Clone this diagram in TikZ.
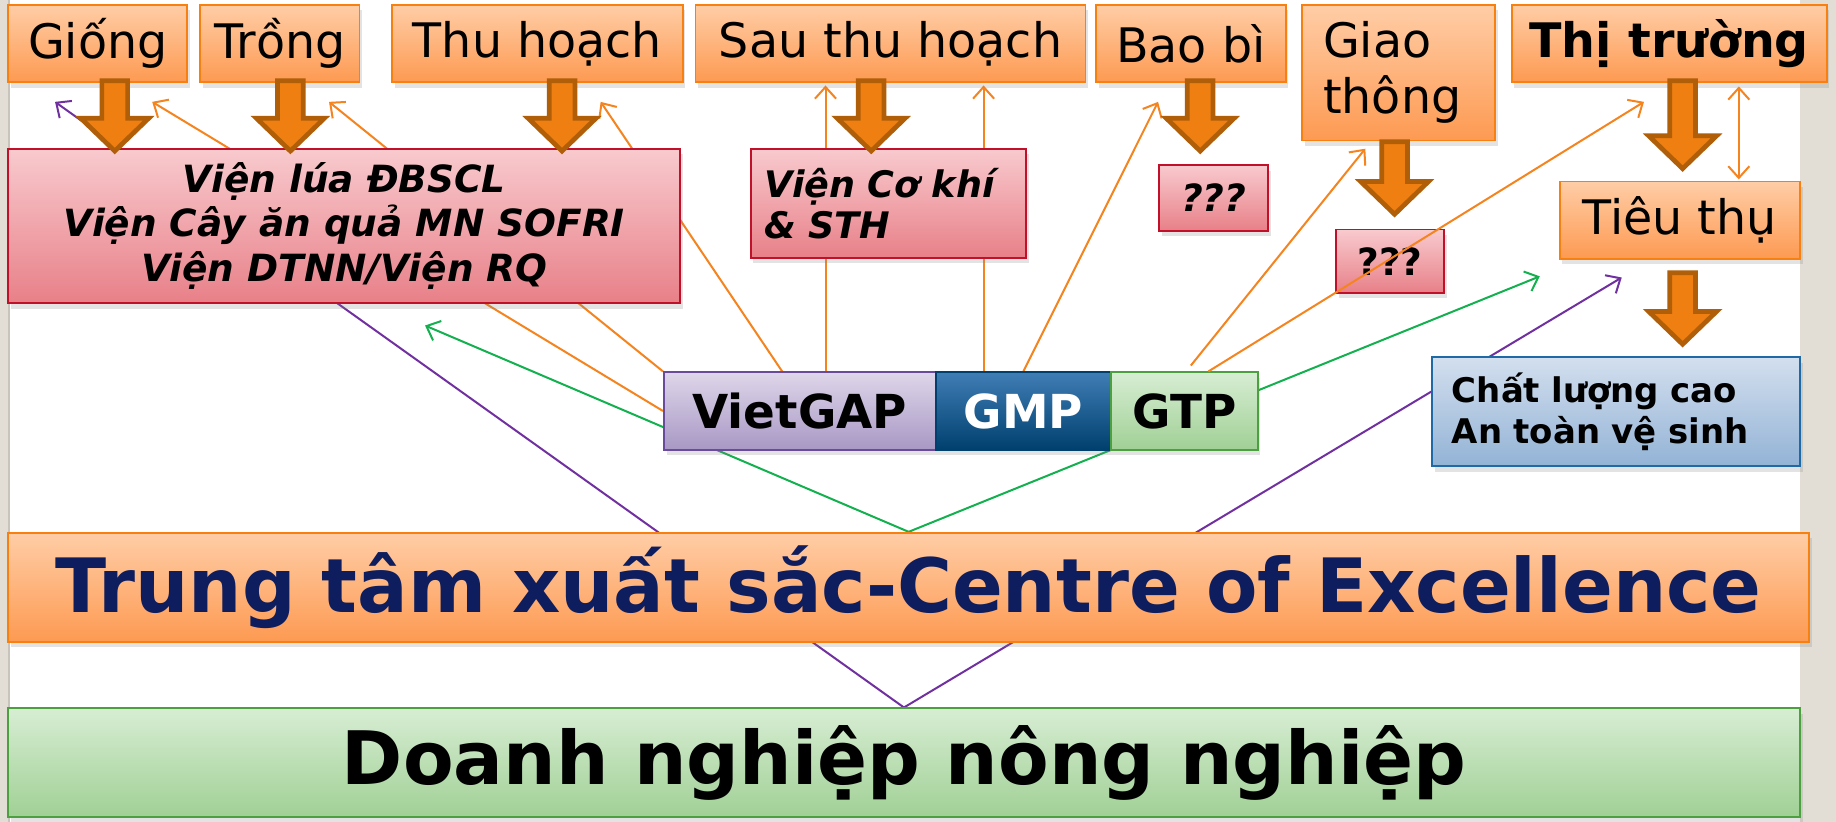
\documentclass[tikz,border=0pt]{standalone}
\usepackage{fontspec}
\setmainfont{DejaVu Sans}
\usetikzlibrary{arrows.meta,shadows}
\pgfdeclarelayer{bg}
\pgfdeclarelayer{lines}
\pgfsetlayers{bg,lines,main}
\definecolor{otop}{RGB}{255,205,166}
\definecolor{obot}{RGB}{253,154,82}
\definecolor{oborder}{RGB}{248,128,16}
\definecolor{rtop}{RGB}{248,202,206}
\definecolor{rbot}{RGB}{232,128,136}
\definecolor{rborder}{RGB}{192,16,42}
\definecolor{btop}{RGB}{211,223,238}
\definecolor{bbot}{RGB}{147,179,214}
\definecolor{bborder}{RGB}{31,106,165}
\definecolor{grtop}{RGB}{215,237,211}
\definecolor{grbot}{RGB}{160,208,149}
\definecolor{grborder}{RGB}{77,160,64}
\definecolor{vtop}{RGB}{222,214,234}
\definecolor{vbot}{RGB}{168,152,196}
\definecolor{vborder}{RGB}{106,74,154}
\definecolor{mtop}{RGB}{63,125,181}
\definecolor{mbot}{RGB}{0,64,110}
\definecolor{navy}{RGB}{14,29,94}
\definecolor{lineor}{RGB}{245,132,31}
\definecolor{linegr}{RGB}{18,176,78}
\definecolor{linepu}{RGB}{112,48,160}
\definecolor{fatfill}{RGB}{238,127,16}
\definecolor{fatborder}{RGB}{176,94,8}
\definecolor{sidebg}{RGB}{226,222,214}
\definecolor{sideedge}{RGB}{200,196,188}
\tikzset{
  box/.style={draw, line width=0.8pt, inner sep=0pt,
    drop shadow={shadow xshift=1.2pt, shadow yshift=-2.4pt, opacity=0.22}},
  obox/.style={box, draw=oborder, top color=otop, bottom color=obot,
    font=\fontsize{20.3pt}{24pt}\selectfont},
  rbox/.style={box, draw=rborder, top color=rtop, bottom color=rbot,
    font=\fontsize{16pt}{18.8pt}\selectfont\bfseries\itshape},
  bbox/.style={box, draw=bborder, top color=btop, bottom color=bbot,
    font=\fontsize{14.5pt}{17.5pt}\selectfont\bfseries},
  gbox/.style={box, draw=grborder, top color=grtop, bottom color=grbot},
  stdbox/.style={box, minimum height=33pt, font=\fontsize{20pt}{24pt}\selectfont\bfseries},
  fat/.style={fill=fatfill, draw=fatborder, line width=2pt},
  pics/fatarr/.style={code={
    \filldraw[fat] (-11,0) -- (-11,#1-30) -- (-29,#1-30) -- (0,#1-2)
      -- (29,#1-30) -- (11,#1-30) -- (11,0) -- cycle;}},
  con/.style={line width=0.85pt, -{Straight Barb[length=5pt,width=9pt]}},
  oline/.style={con, draw=lineor},
  gline/.style={con, draw=linegr},
  pline/.style={con, draw=linepu},
}
\begin{document}
\begin{tikzpicture}[x=0.5pt, y=-0.5pt]
\useasboundingbox (0,0) rectangle (1568,702);
\begin{pgfonlayer}{bg}
  \fill[sidebg] (0,0) rectangle (1568,702);
  \fill[white] (8,0) rectangle (1537,702);
  \draw[sideedge, line width=0.8pt] (8,0) -- (8,702);
\end{pgfonlayer}

% top row
\node[obox, minimum width=76.5pt, minimum height=33pt] (giong) at (83.5,37) {Giống};
\node[obox, minimum width=68pt, minimum height=33pt] (trong) at (239,37) {Trồng};
\node[obox, minimum width=124pt, minimum height=33pt] (thu) at (459,37) {Thu hoạch};
\node[obox, minimum width=166.5pt, minimum height=33pt] (sau) at (760.5,37) {Sau thu hoạch};
\node[obox, minimum width=81pt, minimum height=33pt] (baobi) at (1017,37) {Bao bì};
\node[obox, minimum height=58pt, inner xsep=9pt, text width=64.5pt, align=left] (giao) at (1194.5,62) {Giao\\thông};
\node[obox, minimum width=134.5pt, minimum height=33pt, font=\fontsize{20.3pt}{24pt}\selectfont\bfseries] (thi) at (1425.5,37) {Thị trường};
\node[obox, minimum width=102.5pt, minimum height=33pt] (tieu) at (1434.5,188) {Tiêu thụ};

% institutes
\node[rbox, minimum width=287pt, minimum height=66pt, align=center] (vienlua) at (294,193)
  {Viện lúa ĐBSCL\\Viện Cây ăn quả MN SOFRI\\Viện DTNN/Viện RQ};
\node[rbox, minimum height=46.5pt, inner xsep=6pt, text width=105.5pt, align=left,
  font=\fontsize{15.6pt}{17.5pt}\selectfont\bfseries\itshape] (vienck) at (758.5,173.5)
  {Viện Cơ khí\\\& STH};
\node[rbox, minimum width=46.5pt, minimum height=28pt] (q1) at (1036.5,169) {???};
\node[rbox, minimum width=46pt, minimum height=27pt, font=\fontsize{16pt}{18pt}\selectfont\bfseries] (q2) at (1187,223) {???};

% standards bar
\node[stdbox, draw=vborder, top color=vtop, bottom color=vbot, minimum width=116pt] (vietgap) at (683,351) {VietGAP};
\node[stdbox, draw=mbot, top color=mtop, bottom color=mbot, text=white, minimum width=75pt] (gmp) at (874,351) {GMP};
\node[stdbox, draw=grborder, top color=grtop, bottom color=grbot, minimum width=62.5pt] (gtp) at (1011.5,351) {GTP};

% quality box
\node[bbox, minimum height=46.5pt, inner xsep=8.5pt, text width=140pt, align=left] (clc) at (1380,351.5)
  {Chất lượng cao\\An toàn vệ sinh};

% big bars
\node[obox, minimum width=769pt, minimum height=46.5pt, text=navy,
  font=\fontsize{32pt}{36pt}\selectfont\bfseries] (ttxs) at (776,501.5)
  {Trung tâm xuất sắc-Centre of Excellence};
\node[gbox, minimum width=765pt, minimum height=46.5pt,
  font=\fontsize{31.5pt}{36pt}\selectfont\bfseries] (dn) at (772,651.5)
  {Doanh nghiệp nông nghiệp};

% fat block arrows
\pic at (98,69) {fatarr=62};
\pic at (248,69) {fatarr=62};
\pic at (480,69) {fatarr=62};
\pic at (744,69) {fatarr=62};
\pic at (1025,69) {fatarr=62};
\pic at (1191,121) {fatarr=64};
\pic at (1437,69) {fatarr=77};
\pic at (1437,233) {fatarr=63};

% free ends
\coordinate (p1) at (130,87);
\coordinate (p2) at (281,87);
\coordinate (p3) at (513,87);
\coordinate (p4) at (705,73);
\coordinate (p5) at (840,73);
\coordinate (p6) at (989,87);
\coordinate (p7) at (1166,127);
\coordinate (p8) at (1404,87);
\coordinate (g1) at (363,278);
\coordinate (g2) at (1315,236);
\coordinate (u1) at (47,87);
\coordinate (u2) at (1385,237);

\begin{pgfonlayer}{lines}
  \draw[oline] (vietgap.west) -- (p1);
  \draw[oline] (vietgap.north west) -- (p2);
  \draw[oline] ([xshift=-7.5pt]vietgap.north) -- (p3);
  \draw[oline] ([xshift=11pt]vietgap.north) -- (p4);
  \draw[oline] ([xshift=-17pt]gmp.north) -- (p5);
  \draw[oline] (gmp.north) -- (p6);
  \draw[oline] ([xshift=2.75pt,yshift=2.5pt]gtp.north) -- (p7);
  \draw[gline] (ttxs.north) -- (g1);
  \draw[gline] (ttxs.north) -- (g2);
  \draw[pline] (dn.north) -- (u1);
  \draw[pline] (dn.north) -- (u2);
\end{pgfonlayer}
\draw[oline] ([xshift=10.25pt]gtp.north) -- (p8);
\draw[line width=0.85pt, draw=lineor, {Straight Barb[length=5pt,width=9pt]}-{Straight Barb[length=5pt,width=9pt]}]
  ([xshift=29.75pt,yshift=-1.5pt]thi.south) -- ([xshift=25.25pt,yshift=0.5pt]tieu.north);
\end{tikzpicture}
\end{document}
